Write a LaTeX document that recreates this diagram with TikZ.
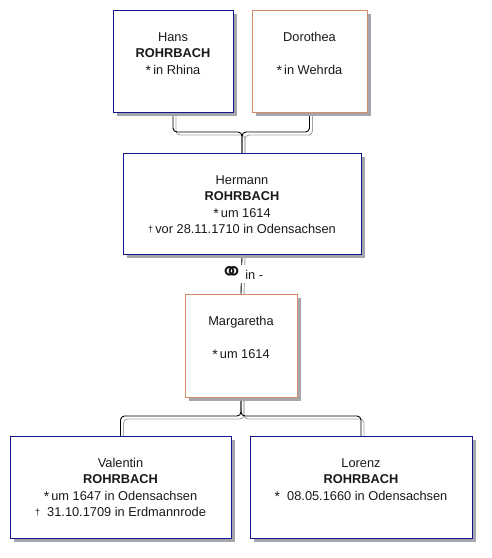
\documentclass[tikz,border=0pt]{standalone}
\usepackage{fontspec}
\setmainfont{Liberation Sans}
\newfontfamily\symfont{DejaVu Sans}
\usetikzlibrary{calc}
\definecolor{mblue}{RGB}{20,20,140}
\definecolor{forange}{RGB}{215,140,105}
\definecolor{shgray}{RGB}{165,165,172}
\definecolor{txt}{RGB}{25,25,25}
\newcommand{\bsym}{\raisebox{-1.2pt}{\fontsize{14}{14}\selectfont *}}
\newcommand{\dsym}{\raisebox{1.5pt}{\fontsize{9}{9}\selectfont †}}
\begin{document}
\begin{tikzpicture}[x=1pt,y=-1pt,
  person/.style={draw, line width=0.9pt, fill=white, inner sep=0pt, outer sep=0pt},
  male/.style={person, draw=mblue},
  female/.style={person, draw=forange},
  boxshadow/.style={fill=shgray, draw=none},
  ptext/.style={anchor=north, align=center, inner sep=0pt, text=txt,
    font=\fontsize{12.8}{16.3}\selectfont},
  conn/.style={draw=black, line width=0.9pt, rounded corners=4pt},
  connsh/.style={draw=shgray, line width=0.9pt, rounded corners=4pt}]
\useasboundingbox (0,0) rectangle (491,558);
% invisible placement of the person boxes, for connectors
\node[person, draw=none, fill=none, minimum width=120pt, minimum height=102pt] (hans) at (173,61) {};
\node[person, draw=none, fill=none, minimum width=115pt, minimum height=102pt] (doro) at (309.5,61) {};
\node[person, draw=none, fill=none, minimum width=238pt, minimum height=101pt] (herm) at (242,203.5) {};
\node[person, draw=none, fill=none, minimum width=112pt, minimum height=103pt] (marg) at (241,345.5) {};
\node[person, draw=none, fill=none, minimum width=221pt, minimum height=102pt] (vale) at (120.5,487) {};
\node[person, draw=none, fill=none, minimum width=222pt, minimum height=102pt] (lore) at (361,487) {};
% connectors: gray offset copy then black
\begin{scope}[transform canvas={shift={(3pt,-3pt)}}]
  \draw[connsh] (hans.south) -- ++(0,20) -| (herm.north);
  \draw[connsh] (doro.south) -- ++(0,20) -| (herm.north);
  \draw[connsh] (herm.south) -- (marg.north);
  \draw[connsh] (marg.south) -- ++(0,19) -| (vale.north);
  \draw[connsh] (marg.south) -- ++(0,19) -| (lore.north);
\end{scope}
\draw[conn] (hans.south) -- ++(0,20) -| (herm.north);
\draw[conn] (doro.south) -- ++(0,20) -| (herm.north);
\draw[conn] (herm.south) -- (marg.north);
\draw[conn] (marg.south) -- ++(0,19) -| (vale.north);
\draw[conn] (marg.south) -- ++(0,19) -| (lore.north);
% box shadows
\fill[boxshadow] ($(hans.south west)+(3.5,3.5)$) rectangle ($(hans.north east)+(3.5,3.5)$);
\fill[boxshadow] ($(doro.south west)+(3.5,3.5)$) rectangle ($(doro.north east)+(3.5,3.5)$);
\fill[boxshadow] ($(herm.south west)+(3.5,3.5)$) rectangle ($(herm.north east)+(3.5,3.5)$);
\fill[boxshadow] ($(marg.south west)+(3.5,3.5)$) rectangle ($(marg.north east)+(3.5,3.5)$);
\fill[boxshadow] ($(vale.south west)+(3.5,3.5)$) rectangle ($(vale.north east)+(3.5,3.5)$);
\fill[boxshadow] ($(lore.south west)+(3.5,3.5)$) rectangle ($(lore.north east)+(3.5,3.5)$);
% visible boxes
\node[male, minimum width=120pt, minimum height=102pt] (hansb) at (hans) {};
\node[female, minimum width=115pt, minimum height=102pt] (dorob) at (doro) {};
\node[male, minimum width=238pt, minimum height=101pt] (hermb) at (herm) {};
\node[female, minimum width=112pt, minimum height=103pt] (margb) at (marg) {};
\node[male, minimum width=221pt, minimum height=102pt] (valeb) at (vale) {};
\node[male, minimum width=222pt, minimum height=102pt] (loreb) at (lore) {};
% texts
\node[ptext] (hanst) at ([yshift=-20pt]hans.north)
  {\strut Hans\\\strut\textbf{ROHRBACH}\\\strut\bsym\,in Rhina};
\node[ptext] (dorot) at ([yshift=-20pt]doro.north)
  {\strut Dorothea\\\strut\\\strut\bsym\,in Wehrda};
\node[ptext] (hermt) at ([yshift=-20pt]herm.north)
  {\strut Hermann\\\strut\textbf{ROHRBACH}\\\strut\bsym\,um 1614\\\strut\dsym\,vor 28.11.1710 in Odensachsen};
\node[ptext] (margt) at ([yshift=-20pt]marg.north)
  {\strut Margaretha\\\strut\\\strut\bsym\,um 1614};
\node[ptext] (valet) at ([yshift=-20pt]vale.north)
  {\strut Valentin\\\strut\textbf{ROHRBACH}\\\strut\bsym\,um 1647 in Odensachsen\\\strut\dsym\ \ 31.10.1709 in Erdmannrode};
\node[ptext] (loret) at ([yshift=-20pt]lore.north)
  {\strut Lorenz\\\strut\textbf{ROHRBACH}\\\strut\bsym\ \ 08.05.1660 in Odensachsen};
% marriage label
\node[fill=white, inner sep=1.5pt, text=txt, font=\fontsize{12.8}{14}\selectfont]
  (marr) at ($(herm.south)!0.5!(marg.north)$) {\raisebox{-2.5pt}{\symfont\fontsize{28}{28}\selectfont ⚭}\,in -};
\end{tikzpicture}
\end{document}
